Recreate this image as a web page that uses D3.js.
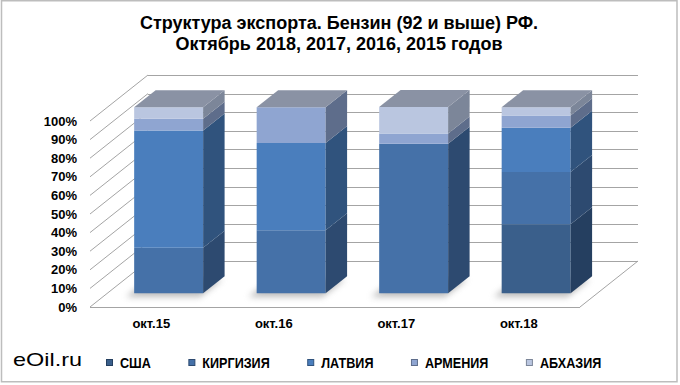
<!DOCTYPE html>
<html>
<head>
<meta charset="utf-8">
<script src="https://cdn.jsdelivr.net/npm/d3@7"></script>
<style>
  html, body { margin: 0; padding: 0; background: #fff; }
  svg { display: block; font-family: Arial, "Liberation Sans", sans-serif; }
</style>
</head>
<body>
<svg id="chart" width="680" height="385"></svg>
<script>
// data (percent of export)
const categories = ["окт.15", "окт.16", "окт.17", "окт.18"];
const seriesNames = ["США", "КИРГИЗИЯ", "ЛАТВИЯ", "АРМЕНИЯ", "АБХАЗИЯ"];
const usa      = [0,    0,    0,    37.1];
const kyrgyz   = [24.4, 33.9, 80.4, 28.0];
const latvia   = [63.1, 46.8, 0,    23.8];
const armenia  = [6.3,  19.3, 5.4,  6.6];
const abkhazia = [6.2,  0,    14.3, 4.5];
const yTicks = [0, 10, 20, 30, 40, 50, 60, 70, 80, 90, 100];

const frontColors = ["#3a5f8b", "#4571a8", "#4a7ebd", "#8fa5d1", "#bac6e0"];
const sideColors  = ["#253f60", "#2d4a70", "#30537d", "#5e6d8b", "#7c8699"];
const topColor = "#8a92a4";

const rows = categories.map((c, i) => ({
  cat: c,
  "США": usa[i], "КИРГИЗИЯ": kyrgyz[i], "ЛАТВИЯ": latvia[i],
  "АРМЕНИЯ": armenia[i], "АБХАЗИЯ": abkhazia[i]
}));

const svg = d3.select("#chart");

// outer frame
svg.append("rect")
  .attr("x", 1.5).attr("y", 0.75)
  .attr("width", 675.5).attr("height", 381)
  .attr("fill", "#fff").attr("stroke", "#bdbdbd").attr("stroke-width", 1.5);

// title
svg.append("text")
  .attr("x", 339).attr("text-anchor", "middle")
  .attr("font-weight", "bold").attr("font-size", 18)
  .call(t => t.append("tspan").attr("x", 339).attr("y", 29).text("Структура экспорта. Бензин (92 и выше) РФ."))
  .call(t => t.append("tspan").attr("x", 339).attr("y", 50).text("Октябрь 2018, 2017, 2016, 2015 годов"));

// pseudo-3D geometry: front plane + depth offset
const depthX = 58, depthY = -46;
const x = d3.scaleBand().domain(categories).range([90, 580]);
const y = d3.scaleLinear().domain([0, 100]).range([307, 121]);
const d0 = 0.30, d1 = 0.67;          // bar depth, as part of the floor depth
const barW = x.bandwidth() * 0.563;

const grid = svg.append("g").attr("stroke", "#a4a4a4").attr("stroke-width", 1).attr("fill", "none");
// back wall
grid.selectAll("line.back")
  .data(yTicks)
  .join("line")
    .attr("class", "back")
    .attr("x1", 90 + depthX).attr("x2", 580 + depthX)
    .attr("y1", d => Math.round(y(d) + depthY) + 0.5)
    .attr("y2", d => Math.round(y(d) + depthY) + 0.5);
// side wall
grid.selectAll("line.side")
  .data(yTicks)
  .join("line")
    .attr("class", "side")
    .attr("x1", 90).attr("y1", d => y(d))
    .attr("x2", 90 + depthX).attr("y2", d => y(d) + depthY);
// floor edges
grid.append("line")
  .attr("x1", 90).attr("x2", 580).attr("y1", y(0) + 0.5).attr("y2", y(0) + 0.5);
grid.append("line")
  .attr("x1", 580).attr("y1", y(0)).attr("x2", 580 + depthX).attr("y2", y(0) + depthY);

// y axis labels
svg.append("g")
  .attr("font-weight", "bold").attr("font-size", 13).attr("text-anchor", "end")
  .selectAll("text")
  .data(yTicks)
  .join("text")
    .attr("x", 77).attr("y", d => y(d)).attr("dy", "0.36em")
    .text(d => d + "%");

// x axis labels
svg.append("g")
  .attr("font-weight", "bold").attr("font-size", 13).attr("text-anchor", "middle")
  .selectAll("text")
  .data(categories)
  .join("text")
    .attr("x", d => x(d) + x.bandwidth() / 2).attr("y", 328)
    .text(d => d);

// soft shadows on the floor
const defs = svg.append("defs");
defs.append("filter").attr("id", "blur").attr("x", "-50%").attr("y", "-50%").attr("width", "200%").attr("height", "200%")
  .append("feGaussianBlur").attr("stdDeviation", 3);

const pt = (px, val, dep) => [px + dep * depthX, y(val) + dep * depthY];
const poly = pts => pts.map(p => p.join(",")).join(" ");

const barLeft = d => x(d) + (x.bandwidth() - barW) / 2;

svg.append("g")
  .selectAll("polygon")
  .data(categories)
  .join("polygon")
    .attr("points", d => {
      const l = barLeft(d) - 7, r = barLeft(d) + barW - 2;
      return poly([pt(l, 0, d0 - 0.02), pt(r, 0, d0 - 0.02), pt(r, 0, d1), pt(l, 0, d1)]
        .map(p => [p[0], p[1] + 3]));
    })
    .attr("fill", "#7a7a7a").attr("opacity", 0.5)
    .attr("filter", "url(#blur)");

// stacked bars
const stacked = d3.stack().keys(seriesNames)(rows);

const bars = svg.append("g");
stacked.forEach((s, si) => {
  const g = bars.append("g");
  // front face
  g.selectAll("polygon.front")
    .data(s.filter(d => d[1] - d[0] > 0))
    .join("polygon")
      .attr("class", "front")
      .attr("points", d => {
        const l = barLeft(d.data.cat), r = l + barW;
        return poly([pt(l, d[0], d0), pt(r, d[0], d0), pt(r, d[1], d0), pt(l, d[1], d0)]);
      })
      .attr("fill", frontColors[si]);
  // right side face
  g.selectAll("polygon.side")
    .data(s.filter(d => d[1] - d[0] > 0))
    .join("polygon")
      .attr("class", "side")
      .attr("points", d => {
        const r = barLeft(d.data.cat) + barW;
        return poly([pt(r, d[0], d0), pt(r, d[0], d1), pt(r, d[1], d1), pt(r, d[1], d0)]);
      })
      .attr("fill", sideColors[si]);
});

// top faces
bars.append("g")
  .selectAll("polygon")
  .data(rows)
  .join("polygon")
    .attr("points", d => {
      const total = d3.sum(seriesNames, k => d[k]);
      const l = barLeft(d.cat), r = l + barW;
      return poly([pt(l, total, d0), pt(r, total, d0), pt(r, total, d1), pt(l, total, d1)]);
    })
    .attr("fill", topColor);

// watermark
svg.append("text")
  .attr("x", 13).attr("y", 366)
  .attr("font-size", 19)
  .attr("textLength", 69).attr("lengthAdjust", "spacingAndGlyphs")
  .attr("fill", "#000")
  .text("eOil.ru");

// legend (narrow bold type, emulated by squeezing Arial)
const legend = svg.append("g")
  .attr("font-weight", "bold").attr("font-size", 14);
let lx = 106.5;
seriesNames.forEach((name, i) => {
  legend.append("rect")
    .attr("x", lx).attr("y", 359.5).attr("width", 6).attr("height", 6)
    .attr("fill", frontColors[i]).attr("stroke", sideColors[i]).attr("stroke-width", 1);
  const t = legend.append("text")
    .attr("x", lx + 13.5).attr("y", 367.5)
    .text(name);
  const w = t.node().getComputedTextLength() * 0.9;
  t.attr("textLength", w).attr("lengthAdjust", "spacingAndGlyphs");
  lx += 13.5 + w + 38;
});
</script>
</body>
</html>
